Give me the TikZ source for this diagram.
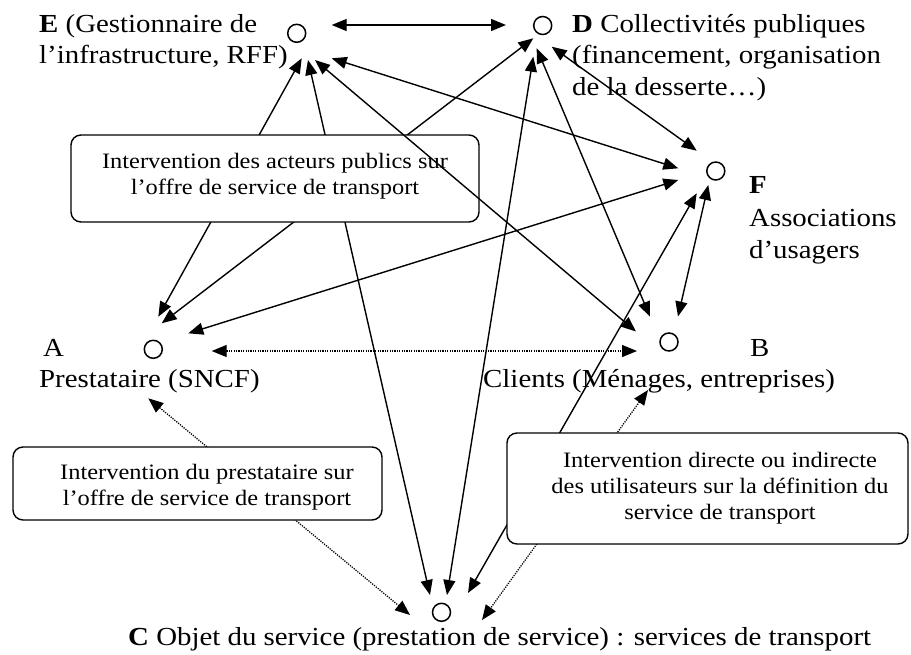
\documentclass[tikz,border=0pt]{standalone}
\usepackage{fontspec}
\setmainfont{Liberation Serif}[FakeStretch=1.11]
\usetikzlibrary{arrows.meta}
\tikzset{
  x=1pt, y=-1pt,
  stop/.style={circle, draw, line width=1.5pt, minimum size=18pt, inner sep=0pt},
  lab/.style={anchor=base west, inner sep=0pt, font=\fontsize{26}{32}\selectfont},
  rbox/.style={draw, rounded corners=10pt, line width=1.4pt, fill=white, inner sep=0pt},
  btext/.style={align=center, inner sep=0pt, font=\fontsize{22}{26}\selectfont},
  tip/.tip={Triangle[length=15pt,width=12pt]},
  link/.style={line width=1.4pt, tip-tip},
  dlink/.style={line width=1.3pt, dash pattern=on 1.2pt off 1.2pt, tip-tip},
}
\begin{document}
\begin{tikzpicture}
\useasboundingbox (0,0) rectangle (911,654);
% nodes (circles)
\node[stop] (E) at (296.7,33.3) {};
\node[stop] (D) at (542.7,25.5) {};
\node[stop] (F) at (715.8,171) {};
\node[stop] (A) at (153.3,349.3) {};
\node[stop] (B) at (669,342) {};
\node[stop] (C) at (441.5,612.3) {};
% labels
\node[lab] (Elab1) at (39,32) {\textbf{E} (Gestionnaire de};
\node[lab] (Elab2) at (39,63) {l’infrastructure, RFF)};
\node[lab] (Dlab1) at (572,32) {\textbf{D} Collectivités publiques};
\node[lab] (Dlab2) at (572,63) {(financement, organisation};
\node[lab] (Dlab3) at (572,95) {de la desserte…)};
\node[lab] (Flab1) at (749,193) {\textbf{F}};
\node[lab] (Flab2) at (749,226) {Associations};
\node[lab] (Flab3) at (749,258) {d’usagers};
\node[lab] (Alab1) at (43,356) {A};
\node[lab] (Alab2) at (39,387) {Prestataire (SNCF)};
\node[lab] (Blab1) at (750,356) {B};
\node[lab] (Blab2) at (483,387) {Clients (Ménages, entreprises)};
\node[lab] (Clab) at (128,645) {\textbf{C} Objet du service (prestation de service) : services de transport};
% arrow end coordinates
\coordinate (ED) at (331.7,25);   \coordinate (DE) at (506,25);
\coordinate (EA) at (301.7,58.3); \coordinate (AE) at (158.3,316.7);
\coordinate (EC) at (308,60);     \coordinate (CE) at (430,595);
\coordinate (EB) at (315,60);     \coordinate (BE) at (636,331.5);
\coordinate (EF) at (331.7,58.3); \coordinate (FE) at (678.3,168.3);
\coordinate (DA) at (533.3,38.3); \coordinate (AD) at (161.7,323.3);
\coordinate (DB) at (536.7,48.3); \coordinate (BD) at (650,316.7);
\coordinate (DC) at (533.3,56.7); \coordinate (CD) at (447,595);
\coordinate (DF) at (551.7,46.7); \coordinate (FD) at (696.7,150.7);
\coordinate (FA) at (678.3,180);  \coordinate (AF) at (188.3,333.3);
\coordinate (FC) at (696.7,193.3);\coordinate (CF) at (468,593);
\coordinate (FB) at (708.3,185);  \coordinate (BF) at (678,316.5);
\coordinate (AB) at (211.7,351);  \coordinate (BA) at (637,351);
\coordinate (AC) at (148.3,398.3);\coordinate (CA) at (410,615);
\coordinate (BC) at (648,390);    \coordinate (CB) at (482,620);
% connectors passing behind the boxes
\draw[link] (EA) -- (AE);
\draw[link] (DA) -- (AD);
\draw[link] (EC) -- (CE);
\draw[link] (FC) -- (CF);
\draw[dlink] (AC) -- (CA);
\draw[dlink] (BC) -- (CB);
% boxes
\node[rbox, minimum width=408pt, minimum height=87pt] (box1) at (275,178.5) {};
\node[btext] (box1t) at (275,176) {Intervention des acteurs publics sur\\l’offre de service de transport};
\node[rbox, minimum width=369pt, minimum height=73pt] (box2) at (197.5,483.5) {};
\node[btext] (box2t) at (207,487.5) {Intervention du prestataire sur\\l’offre de service de transport};
\node[rbox, minimum width=401pt, minimum height=111pt] (box3) at (707.5,488.5) {};
\node[btext] (box3t) at (720,488.5) {Intervention directe ou indirecte\\des utilisateurs sur la définition du\\service de transport};
% other connectors
\draw[link] (ED) -- (DE);
\draw[link] (EB) -- (BE);
\draw[link] (EF) -- (FE);
\draw[link] (DB) -- (BD);
\draw[link] (DC) -- (CD);
\draw[link] (DF) -- (FD);
\draw[link] (FA) -- (AF);
\draw[link] (FB) -- (BF);
\draw[dlink] (AB) -- (BA);
\end{tikzpicture}
\end{document}
